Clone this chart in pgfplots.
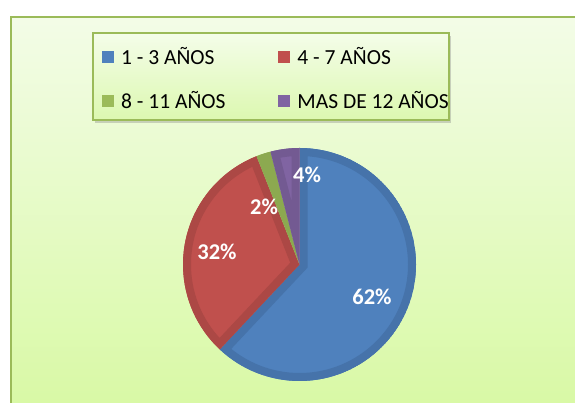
\documentclass[border=0pt]{standalone}
\usepackage{pgfplots}
\pgfplotsset{compat=1.18}
\usepackage{pgfplotstable}
\usepackage{fontspec}
\setmainfont{Carlito}
\usetikzlibrary{shadows}

\definecolor{azul}{RGB}{79,129,189}
\definecolor{azulosc}{RGB}{70,115,170}
\definecolor{rojo}{RGB}{192,80,77}
\definecolor{rojoosc}{RGB}{172,72,69}
\definecolor{verde}{RGB}{155,187,89}
\definecolor{verdeosc}{RGB}{140,169,80}
\definecolor{morado}{RGB}{128,100,162}
\definecolor{moradoosc}{RGB}{115,90,146}
\definecolor{borde}{RGB}{155,187,89}
\definecolor{fondoA}{RGB}{243,252,231}
\definecolor{fondoB}{RGB}{216,249,164}
\definecolor{leyA}{RGB}{244,253,233}
\definecolor{leyB}{RGB}{220,248,176}

\pgfplotstableread{
grupo valor
1-3 62
4-7 32
8-11 2
12+ 4
}\datos

% slice: start angle, end angle, fill colour, band colour
\newcommand\rebanada[4]{%
  \begin{scope}
    \clip (axis cs:299.5,138.5) -- ++(#1:116.5pt)
      arc[start angle=#1, end angle=#2, radius=116.5pt] -- cycle;
    \fill[#3] (axis cs:299.5,138.5) -- ++(#1:116.5pt)
      arc[start angle=#1, end angle=#2, radius=116.5pt] -- cycle;
    \draw[#4, line width=16pt] (axis cs:299.5,138.5) -- ++(#1:116.5pt)
      arc[start angle=#1, end angle=#2, radius=116.5pt] -- cycle;
  \end{scope}}

\begin{document}
\begin{tikzpicture}
\useasboundingbox (0,0) rectangle (575pt,403pt);
\clip (0,0) rectangle (575pt,403pt);

\pgfplotstablegetelem{0}{valor}\of\datos \let\vA\pgfplotsretval
\pgfplotstablegetelem{1}{valor}\of\datos \let\vB\pgfplotsretval
\pgfplotstablegetelem{2}{valor}\of\datos \let\vC\pgfplotsretval
\pgfplotstablegetelem{3}{valor}\of\datos \let\vD\pgfplotsretval
\pgfmathsetmacro\aA{90}
\pgfmathsetmacro\aB{\aA-3.6*\vA}
\pgfmathsetmacro\aC{\aB-3.6*\vB}
\pgfmathsetmacro\aD{\aC-3.6*\vC}
\pgfmathsetmacro\aE{\aD-3.6*\vD}

\begin{axis}[
  at={(0pt,0pt)}, anchor=south west,
  width=575pt, height=403pt, scale only axis,
  xmin=0, xmax=575, ymin=0, ymax=403,
  hide axis, clip=false,
  legend columns=2,
  legend image code/.code={%
    \fill[#1, draw=none] (0pt,-6pt) rectangle (12pt,6pt);
    \path[draw=none, fill=none] (0pt,0pt) -- (17pt,0pt);},
  legend style={at={(axis cs:102,358)}, anchor=north west,
    draw=none, fill=none, inner sep=0pt,
    font=\fontsize{21.5}{25}\selectfont,
    cells={anchor=west},
    row sep=22pt,
    /tikz/every even column/.append style={column sep=51pt}},
]
\draw[borde, line width=2pt, top color=fondoA, bottom color=fondoB]
  (axis cs:11,-10) rectangle (axis cs:590,386);
\draw[borde, line width=1.8pt, top color=leyA, bottom color=leyB,
  drop shadow={shadow xshift=2pt, shadow yshift=-3pt, opacity=0.35}]
  (axis cs:93,283) rectangle (axis cs:449,370);

\rebanada{\aA}{\aB}{azul}{azulosc}
\rebanada{\aB}{\aC}{rojo}{rojoosc}
\rebanada{\aC}{\aD}{verde}{verdeosc}
\rebanada{\aD}{\aE}{morado}{moradoosc}

\node[text=white, font=\bfseries\fontsize{22.5}{26}\selectfont] at (axis cs:372,106) {62\%};
\node[text=white, font=\bfseries\fontsize{22.5}{26}\selectfont] at (axis cs:217,151) {32\%};
\node[text=white, font=\bfseries\fontsize{22.5}{26}\selectfont] at (axis cs:264,196) {2\%};
\node[text=white, font=\bfseries\fontsize{22.5}{26}\selectfont] at (axis cs:307,228) {4\%};

\addlegendimage{fill=azul}
\addlegendentry{1 - 3 AÑOS}
\addlegendimage{fill=rojo}
\addlegendentry{4 - 7 AÑOS}
\addlegendimage{fill=verde}
\addlegendentry{8 - 11 AÑOS}
\addlegendimage{fill=morado}
\addlegendentry{MAS DE 12 AÑOS}
\end{axis}
\end{tikzpicture}
\end{document}
